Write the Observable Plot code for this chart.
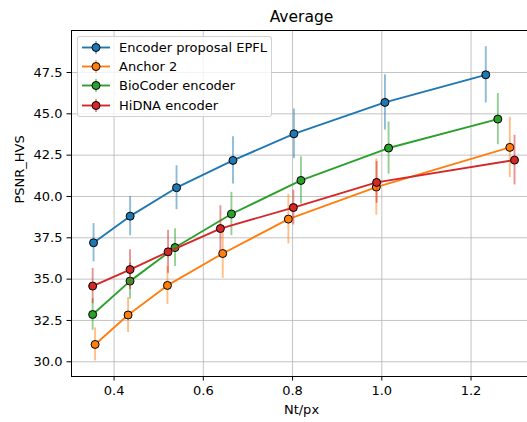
<!DOCTYPE html>
<html>
<head>
<meta charset="utf-8">
<script src="https://cdn.jsdelivr.net/npm/d3@7"></script>
<script src="https://cdn.jsdelivr.net/npm/@observablehq/plot@0.6"></script>
<style>
  body { margin: 0; background: white; font-family: "DejaVu Sans", sans-serif; }
  #wrap { position: relative; width: 527px; height: 422px; overflow: hidden; }
  #legend { position: absolute; left: 77px; top: 36px; width: 193px; height: 79px;
    border: 1px solid rgba(204,204,204,0.9); border-radius: 3px; background: rgba(255,255,255,0.8); }
  .row { position: absolute; left: 0; height: 19px; width: 193px; }
  .row svg { position: absolute; left: 3px; top: 0; }
  .row span { position: absolute; left: 41px; top: 0; line-height: 19px; font-size: 13px; color: #000; white-space: nowrap; }
</style>
</head>
<body>
<div id="wrap"></div>
<script>
// ---- data ----
const seriesNames = ["Encoder proposal EPFL", "Anchor 2", "BioCoder encoder", "HiDNA encoder"];
const seriesColors = ["#1f77b4", "#ff7f0e", "#2ca02c", "#d62728"];

const epflX = [0.354, 0.436, 0.540, 0.6665, 0.803, 1.007, 1.233];
const epflY = [37.20, 38.81, 40.53, 42.18, 43.79, 45.69, 47.36];
const epflErr = [1.16, 1.19, 1.33, 1.43, 1.50, 1.67, 1.70];

const anchorX = [0.3575, 0.4314, 0.5196, 0.6435, 0.7906, 0.9877, 1.2869];
const anchorY = [31.05, 32.83, 34.62, 36.55, 38.63, 40.57, 42.97];
const anchorErr = [1.00, 1.06, 1.15, 1.50, 1.50, 1.70, 1.83];

const bioX = [0.352, 0.4358, 0.5366, 0.663, 0.8188, 1.0152, 1.260];
const bioY = [32.86, 34.88, 36.91, 38.94, 40.97, 42.93, 44.68];
const bioErr = [0.95, 1.10, 1.14, 1.31, 1.43, 1.58, 1.55];

const hidnaX = [0.352, 0.4358, 0.521, 0.6383, 0.8018, 0.9884, 1.2974];
const hidnaY = [34.58, 35.58, 36.65, 38.06, 39.33, 40.85, 42.20];
const hidnaErr = [1.07, 1.20, 1.30, 1.38, 1.05, 1.26, 1.50];

const xTicks = [0.4, 0.6, 0.8, 1.0, 1.2];
const yTicks = [30.0, 32.5, 35.0, 37.5, 40.0, 42.5, 45.0, 47.5];
const xDomain = [0.3046, 1.3265];
const yDomain = [29.11, 50.04];

const titleText = "Average";
const xLabel = "Nt/px";
const yLabel = "PSNR_HVS";

// ---- build table ----
const raw = [[epflX, epflY, epflErr], [anchorX, anchorY, anchorErr], [bioX, bioY, bioErr], [hidnaX, hidnaY, hidnaErr]];
const seriesData = raw.map(([xs, ys, es], i) => xs.map((x, j) => ({
  series: seriesNames[i], color: seriesColors[i], x, y: ys[j], lo: ys[j] - es[j], hi: ys[j] + es[j]
})));

const marks = [
  Plot.gridX(xTicks, {stroke: "#b0b0b0", strokeOpacity: 0.75, strokeWidth: 1}),
  Plot.gridY(yTicks, {stroke: "#b0b0b0", strokeOpacity: 0.75, strokeWidth: 1}),
];
seriesData.forEach(d => {
  marks.push(Plot.ruleX(d, {x: "x", y1: "lo", y2: "hi", stroke: d[0].color, strokeOpacity: 0.5, strokeWidth: 1.9}));
  marks.push(Plot.line(d, {x: "x", y: "y", stroke: d[0].color, strokeWidth: 1.9}));
  marks.push(Plot.dot(d, {x: "x", y: "y", r: 4, fill: d[0].color, stroke: "black", strokeWidth: 1, fillOpacity: 1}));
});
marks.push(
  Plot.ruleX([xDomain[0]], {stroke: "black", strokeWidth: 1}),
  Plot.ruleY([yDomain[0], yDomain[1]], {stroke: "black", strokeWidth: 1}),
  Plot.axisX(xTicks, {tickSize: 4.5, tickPadding: 4.5, tickFormat: d => d.toFixed(1), label: null, fontSize: 13}),
  Plot.axisY(yTicks, {tickSize: 4.5, tickPadding: 4.5, tickFormat: d => d.toFixed(1), label: null, fontSize: 13}),
  Plot.text([titleText], {frameAnchor: "top", dx: 2, dy: -13, fontSize: 15.5, lineAnchor: "middle", fill: "black"}),
  Plot.text([xLabel], {frameAnchor: "bottom", dx: 2, dy: 33, fontSize: 13, lineAnchor: "middle", fill: "black"}),
  Plot.text([yLabel], {frameAnchor: "left", dx: -52, rotate: -90, fontSize: 13, lineAnchor: "middle", fill: "black"})
);

const chart = Plot.plot({
  width: 527, height: 422,
  marginLeft: 71, marginRight: 0, marginTop: 30, marginBottom: 46,
  x: {domain: xDomain},
  y: {domain: yDomain},
  style: {fontFamily: "DejaVu Sans", fontSize: "13px", color: "black", background: "white", overflow: "visible"},
  marks
});
const wrap = document.getElementById("wrap");
wrap.appendChild(chart);

// ---- legend ----
const legend = document.createElement("div");
legend.id = "legend";
seriesNames.forEach((name, i) => {
  const row = document.createElement("div");
  row.className = "row";
  row.style.top = (1 + i * 19.2) + "px";
  const c = seriesColors[i];
  row.innerHTML = `<svg width="32" height="19" viewBox="0 0 32 19">
    <line x1="15" x2="15" y1="3" y2="16" stroke="${c}" stroke-opacity="0.5" stroke-width="1.9"/>
    <line x1="1" x2="29" y1="9.5" y2="9.5" stroke="${c}" stroke-width="1.9"/>
    <circle cx="15" cy="9.5" r="4" fill="${c}" stroke="black" stroke-width="1"/>
  </svg><span>${name}</span>`;
  legend.appendChild(row);
});
wrap.appendChild(legend);
</script>
</body>
</html>
